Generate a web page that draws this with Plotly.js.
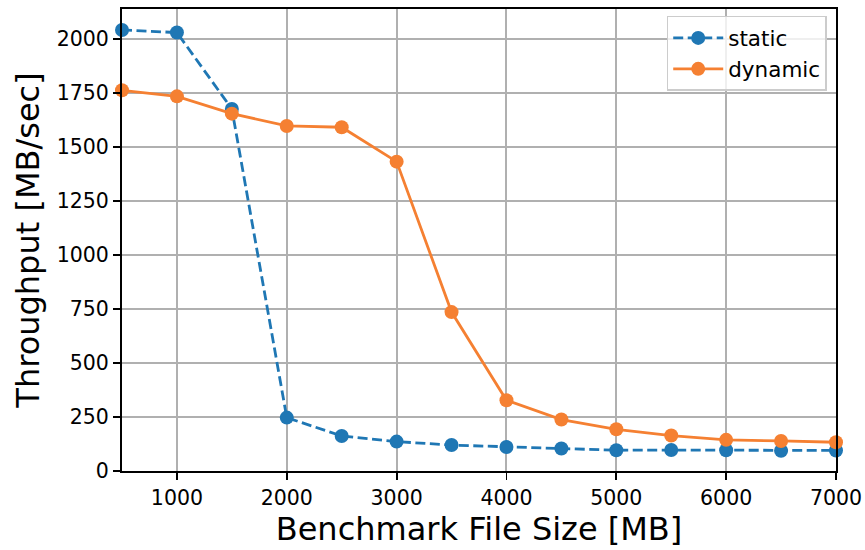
<!DOCTYPE html>
<html>
<head>
<meta charset="utf-8">
<script src="https://cdn.plot.ly/plotly-3.0.1.min.js"></script>
<style>html,body{margin:0;padding:0;background:#fff;}#chart{width:865px;height:550px;}</style>
</head>
<body>
<div id="chart"></div>
<script>
const fileSizes = [500, 1000, 1500, 2000, 2500, 3000, 3500, 4000, 4500, 5000, 5500, 6000, 6500, 7000];
const staticThroughput = [2040, 2028, 1675, 247, 162, 136, 120, 111, 104, 96, 97, 96, 94, 95];
const dynamicThroughput = [1761, 1733, 1653, 1596, 1590, 1431, 735, 327, 238, 193, 164, 144, 139, 133];
const xTicks = [1000, 2000, 3000, 4000, 5000, 6000, 7000];
const yTicks = [0, 250, 500, 750, 1000, 1250, 1500, 1750, 2000];

const font = "DejaVu Sans, sans-serif";
const traces = [
  {
    x: fileSizes, y: staticThroughput, name: "static", type: "scatter", mode: "lines+markers",
    line: {color: "#1f77b4", width: 2.8, dash: "10px,4.5px"},
    marker: {color: "#1f77b4", size: 14}, cliponaxis: false
  },
  {
    x: fileSizes, y: dynamicThroughput, name: "dynamic", type: "scatter", mode: "lines+markers",
    line: {color: "#f58032", width: 2.8},
    marker: {color: "#f58032", size: 14}, cliponaxis: false
  }
];
const axisCommon = {
  showline: true, linecolor: "#000", linewidth: 2, mirror: true,
  ticks: "outside", ticklen: 7, tickwidth: 1.8, tickcolor: "#000",
  showgrid: true, gridcolor: "#b0b0b0", gridwidth: 2, zeroline: false,
  tickfont: {family: font, size: 20.5, color: "#000"}
};
const layout = {
  width: 865, height: 550,
  margin: {l: 122, r: 29, t: 9, b: 79},
  paper_bgcolor: "#fff", plot_bgcolor: "#fff",
  font: {family: font, color: "#000"},
  xaxis: Object.assign({}, axisCommon, {
    range: [500, 7000], tickvals: xTicks, ticktext: xTicks.map(String),
    title: {text: "Benchmark File Size [MB]", font: {family: font, size: 32, color: "#000"}, standoff: 4}
  }),
  yaxis: Object.assign({}, axisCommon, {
    range: [0, 2137], tickvals: yTicks, ticktext: yTicks.map(String),
    title: {text: "Throughput [MB/sec]", font: {family: font, size: 32, color: "#000"}, standoff: 8}
  }),
  legend: {
    x: 0.987, y: 0.985, xanchor: "right", yanchor: "top",
    bgcolor: "rgba(255,255,255,0.8)", bordercolor: "#cccccc", borderwidth: 1.5,
    font: {family: font, size: 21.5, color: "#000"},
    itemwidth: 50, tracegroupgap: 0
  },
  showlegend: true
};
Plotly.newPlot("chart", traces, layout, {displayModeBar: false, staticPlot: true});
</script>
</body>
</html>
